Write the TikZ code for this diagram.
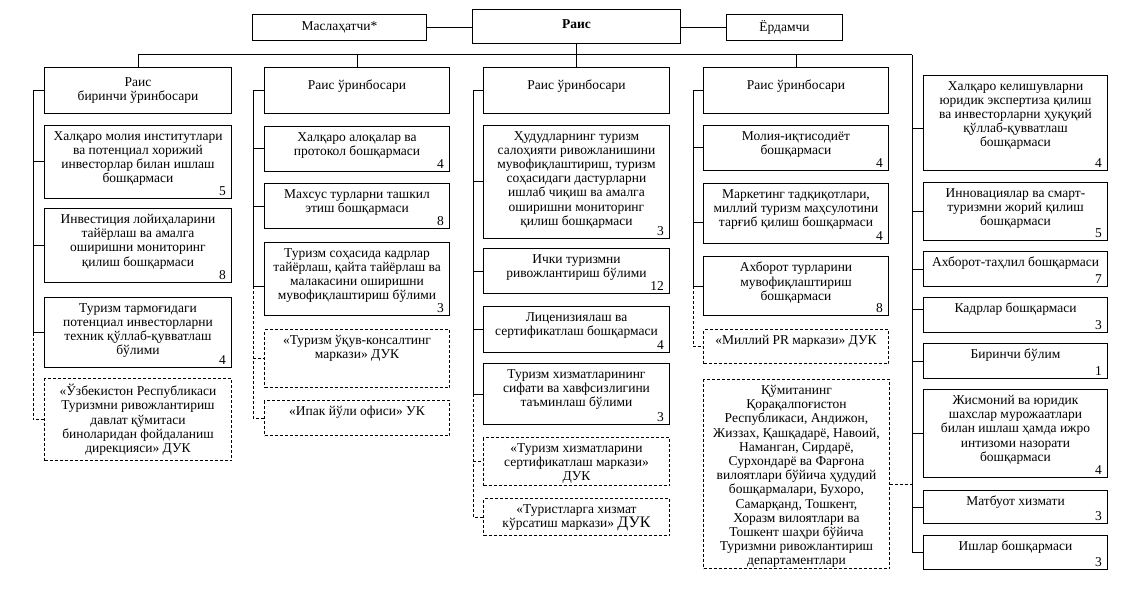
\documentclass[tikz,border=0pt]{standalone}
\usepackage{fontspec}
\setmainfont{Liberation Serif}
\usetikzlibrary{calc}
\tikzset{
  boxs/.style={draw, line width=1pt, rectangle, inner sep=0pt},
  dboxs/.style={draw, line width=1pt, rectangle, inner sep=0pt, dash pattern=on 3pt off 2pt},
  txt/.style={font=\fontsize{13.5pt}{14.2pt}\selectfont, align=center, inner sep=0pt},
  num/.style={font=\fontsize{13.5pt}{14.2pt}\selectfont, inner xsep=6pt, inner ysep=3pt},
  ln/.style={line width=1pt},
  dln/.style={line width=1pt, dash pattern=on 3pt off 2pt}
}
\newcommand\orgbox[8]{%
  \pgfmathsetmacro\bw{#5-#3}%
  \pgfmathsetmacro\bh{#6-#4}%
  \node[#2, minimum width=\bw pt, minimum height=\bh pt, anchor=north west] (#1) at (#3,#4) {};
  \node[txt, anchor=north] (#1t) at ([yshift=-6pt]#1.north) {#7};
  \if\relax\detokenize{#8}\relax\else\node[num, anchor=south east] (#1n) at (#1.south east) {#8};\fi
}
\newcommand\headbox[7]{%
  \pgfmathsetmacro\bw{#4-#2}%
  \pgfmathsetmacro\bh{#5-#3}%
  \node[boxs, minimum width=\bw pt, minimum height=\bh pt, anchor=north west] (#1) at (#2,#3) {};
  \node[txt] (#1t) at ([yshift=#7]#1.center) {#6};
}
\begin{document}
\begin{tikzpicture}[x=1pt,y=-1pt]
\useasboundingbox (0,0) rectangle (1133,607);
% top
\headbox{mas}{252}{14}{426}{40}{Маслаҳатчи*}{0pt}
\headbox{rais}{472}{9}{680}{43}{\textbf{Раис}}{2pt}
\headbox{yor}{726}{14}{842}{40}{Ёрдамчи}{0pt}
% column 1
\headbox{c1h}{44}{67}{231}{113}{Раис\\биринчи ўринбосари}{0pt}
\orgbox{c1a}{boxs}{44}{125}{231}{198}{Халқаро молия институтлари\\ва потенциал хорижий\\инвесторлар билан ишлаш\\бошқармаси}{5}
\orgbox{c1b}{boxs}{44}{208}{231}{282}{Инвестиция лойиҳаларини\\тайёрлаш ва амалга\\оширишни мониторинг\\қилиш бошқармаси}{8}
\orgbox{c1c}{boxs}{44}{297}{231}{367}{Туризм тармоғидаги\\потенциал инвесторларни\\техник қўллаб-қувватлаш\\бўлими}{4}
\orgbox{c1d}{dboxs}{44}{378}{231}{460}{«Ўзбекистон Республикаси\\Туризмни ривожлантириш\\давлат қўмитаси\\биноларидан фойдаланиш\\дирекцияси» ДУК}{}
% column 2
\headbox{c2h}{264}{67}{449}{113}{Раис ўринбосари}{4pt}
\orgbox{c2a}{boxs}{264}{126}{449}{171}{Халқаро алоқалар ва\\протокол бошқармаси}{4}
\orgbox{c2b}{boxs}{264}{183}{449}{228}{Махсус турларни ташкил\\этиш бошқармаси}{8}
\orgbox{c2c}{boxs}{264}{242}{449}{315}{Туризм соҳасида кадрлар\\тайёрлаш, қайта тайёрлаш ва\\малакасини оширишни\\мувофиқлаштириш бўлими}{3}
\orgbox{c2d}{dboxs}{264}{329}{449}{387}{«Туризм ўқув-консалтинг\\маркази» ДУК}{}
\orgbox{c2e}{dboxs}{264}{400}{449}{435}{«Ипак йўли офиси» УК}{}
% column 3
\headbox{c3h}{483}{67}{669}{113}{Раис ўринбосари}{4pt}
\orgbox{c3a}{boxs}{483}{125}{669}{238}{Ҳудудларнинг туризм\\салоҳияти ривожланишини\\мувофиқлаштириш, туризм\\соҳасидаги дастурларни\\ишлаб чиқиш ва амалга\\оширишни мониторинг\\қилиш бошқармаси}{3}
\orgbox{c3b}{boxs}{483}{248}{669}{293}{Ички туризмни\\ривожлантириш бўлими}{12}
\orgbox{c3c}{boxs}{483}{306}{669}{352}{Лиценизиялаш ва\\сертификатлаш бошқармаси}{4}
\orgbox{c3d}{boxs}{483}{363}{669}{424}{Туризм хизматларининг\\сифати ва хавфсизлигини\\таъминлаш бўлими}{3}
\orgbox{c3e}{dboxs}{483}{437}{669}{485}{«Туризм хизматларини\\сертификатлаш маркази»\\ДУК}{}
\orgbox{c3f}{dboxs}{483}{498}{669}{535}{«Туристларга хизмат\\кўрсатиш маркази» {\fontsize{16pt}{14.2pt}\selectfont ДУК}}{}
% column 4
\headbox{c4h}{703}{67}{888}{113}{Раис ўринбосари}{4pt}
\orgbox{c4a}{boxs}{703}{125}{888}{170}{Молия-иқтисодиёт\\бошқармаси}{4}
\orgbox{c4b}{boxs}{703}{183}{888}{243}{Маркетинг тадқиқотлари,\\миллий туризм маҳсулотини\\тарғиб қилиш бошқармаси}{4}
\orgbox{c4c}{boxs}{703}{256}{888}{315}{Ахборот турларини\\мувофиқлаштириш\\бошқармаси}{8}
\orgbox{c4d}{dboxs}{703}{329}{888}{363}{«Миллий PR маркази» ДУК}{}
\orgbox{c4e}{dboxs}{703}{379}{889}{568}{\fontsize{13.5pt}{13.9pt}\selectfont Қўмитанинг\\Қорақалпоғистон\\Республикаси, Андижон,\\Жиззах, Қашқадарё, Навоий,\\Наманган, Сирдарё,\\Сурхондарё ва Фарғона\\вилоятлари бўйича ҳудудий\\бошқармалари, Бухоро,\\Самарқанд, Тошкент,\\Хоразм вилоятлари ва\\Тошкент шаҳри бўйича\\Туризмни ривожлантириш\\департаментлари}{}
% column 5
\orgbox{c5a}{boxs}{923}{75}{1107}{170}{Халқаро келишувларни\\юридик экспертиза қилиш\\ва  инвесторларни ҳуқуқий\\қўллаб-қувватлаш\\бошқармаси}{4}
\orgbox{c5b}{boxs}{923}{182}{1107}{240}{Инновациялар ва смарт-\\туризмни жорий қилиш\\бошқармаси}{5}
\orgbox{c5c}{boxs}{923}{251}{1107}{286}{Ахборот-таҳлил бошқармаси}{7}
\orgbox{c5d}{boxs}{923}{297}{1107}{332}{Кадрлар бошқармаси}{3}
\orgbox{c5e}{boxs}{923}{343}{1107}{378}{Биринчи бўлим}{1}
\orgbox{c5f}{boxs}{923}{389}{1107}{477}{Жисмоний ва юридик\\шахслар мурожаатлари\\билан ишлаш ҳамда ижро\\интизоми назорати\\бошқармаси}{4}
\orgbox{c5g}{boxs}{923}{490}{1107}{523}{Матбуот хизмати}{3}
\orgbox{c5h}{boxs}{923}{535}{1107}{569}{Ишлар бошқармаси}{3}
% connectors: top
\draw[ln] (mas.east) -- (mas.east -| rais.west);
\draw[ln] (rais.east |- yor.west) -- (yor.west);
\coordinate (barR) at (912,55);
\coordinate (barL) at (c1h.north |- barR);
\draw[ln] (rais.south) -- (c3h.north);
\draw[ln] (c1h.north) -- (barL) -- (barR);
\draw[ln] (barL -| c2h.north) -- (c2h.north);
\draw[ln] (barL -| c4h.north) -- (c4h.north);
% column 1
\coordinate (c1L) at ($(c1h.west)+(-11,0)$);
\draw[ln] (c1h.west) -- (c1L) |- (c1c.west);
\draw[ln] (c1L |- c1a.west) -- (c1a.west);
\draw[ln] (c1L |- c1b.west) -- (c1b.west);
\draw[dln] (c1L |- c1c.west) |- (c1d.west);
% column 2
\coordinate (c2L) at ($(c2h.west)+(-11,0)$);
\coordinate (c2cT) at ($(c2c.west)+(0,7)$);
\draw[ln] (c2h.west) -- (c2L) |- (c2cT);
\draw[ln] (c2L |- c2a.west) -- (c2a.west);
\draw[ln] (c2L |- c2b.west) -- (c2b.west);
\draw[dln] (c2L |- c2cT) |- (c2e.west);
\draw[dln] (c2L |- c2d.west) -- (c2d.west);
% column 3
\coordinate (c3L) at ($(c3h.west)+(-10,0)$);
\draw[ln] (c3h.west) -- (c3L) |- (c3d.west);
\draw[ln] (c3L |- c3a.west) -- (c3a.west);
\draw[ln] (c3L |- c3b.west) -- (c3b.west);
\draw[ln] (c3L |- c3c.west) -- (c3c.west);
\draw[dln] (c3L |- c3d.west) |- (c3f.west);
\draw[dln] (c3L |- c3e.west) -- (c3e.west);
% column 4
\coordinate (c4L) at ($(c4h.west)+(-10,0)$);
\coordinate (c4bT) at ($(c4b.west)+(0,9)$);
\draw[ln] (c4h.west) -- (c4L) |- (c4c.west);
\draw[ln] (c4L |- c4a.west) -- (c4a.west);
\draw[ln] (c4L |- c4bT) -- (c4bT);
\draw[dln] (c4L |- c4c.west) |- (c4d.west);
\coordinate (kmE) at ($(c4e.east)+(0,10)$);
\draw[dln] (kmE) -- (barR |- kmE);
% column 5
\coordinate (c5aT) at ($(c5a.west)+(0,6)$);
\coordinate (c5dT) at ($(c5d.west)+(0,-6)$);
\draw[ln] (barR) |- (c5h.west);
\draw[ln] (barR |- c5aT) -- (c5aT);
\draw[ln] (barR |- c5dT) -- (c5dT);
\foreach \b in {c5b,c5c,c5e,c5f,c5g} {\draw[ln] (barR |- \b.west) -- (\b.west);}
\end{tikzpicture}
\end{document}
